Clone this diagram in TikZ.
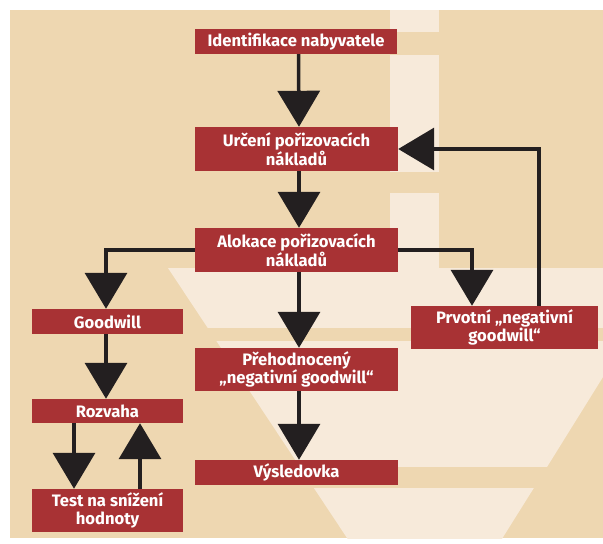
\documentclass[tikz,border=0pt]{standalone}
\usepackage{fontspec}
\setmainfont{Fira Sans}
\usetikzlibrary{arrows.meta}
\definecolor{beige}{HTML}{EED7B1}
\definecolor{cream}{HTML}{F7EADA}
\definecolor{boxred}{HTML}{A83234}
\definecolor{arrowblack}{HTML}{231F20}
\tikzset{
  box/.style={fill=boxred, text=white, font=\bfseries\fontsize{16.6}{18.5}\selectfont,
    align=center, inner sep=0pt, minimum height=#1},
  box/.default=25pt,
  arr/.style={draw=arrowblack, line width=3.5pt,
    -{Triangle[width=42pt,length=36pt]}},
}
\begin{document}
\begin{tikzpicture}[x=1pt,y=-1pt]
\useasboundingbox (0,0) rectangle (603,544);
% background
\fill[white] (0,0) rectangle (603,544);
\fill[beige] (10,10) rectangle (603,538);
\begin{scope}
\clip (10,10) rectangle (603,538);
\fill[cream] (390,10) rectangle (439,32);
\fill[cream] (390,55) rectangle (439,172);
\fill[cream] (390,193) rectangle (439,268);
\fill[cream] (168,268) -- (650,268) -- (603,377) -- (547,467) -- (495,550) -- (355,550) -- cycle;
\fill[beige] (150,328) rectangle (620,341);
\fill[beige] (150,467) rectangle (620,488);
\end{scope}
% nodes
\node[box=25pt, minimum width=202pt] (ident) at (296,41.5) {Identifikace nabyvatele};
\node[box=44pt, minimum width=203pt] (urceni) at (296.5,149) {Určení pořizovacích\\nákladů};
\node[box=44pt, minimum width=203pt] (alokace) at (296.5,250) {Alokace pořizovacích\\nákladů};
\node[box=25pt, minimum width=151pt] (goodwill) at (107.5,321.5) {Goodwill};
\node[box=24pt, minimum width=151pt] (rozvaha) at (107.5,411) {Rozvaha};
\node[box=43pt, minimum width=151pt] (test) at (107.5,510.5) {Test na snížení\\hodnoty};
\node[box=43pt, minimum width=203pt] (prehod) at (296.5,369.5) {Přehodnocený\\„negativní goodwill“};
\node[box=25pt, minimum width=203pt] (vysl) at (296.5,472.5) {Výsledovka};
\node[box=43pt, minimum width=187pt] (prvotni) at (504.5,327.5) {Prvotní „negativní\\goodwill“};
% connectors
\draw[arr] ([xshift=2.5pt]ident.south) -- ([xshift=2.5pt]urceni.north);
\draw[arr] ([xshift=2.5pt]urceni.south) -- ([xshift=2.5pt]alokace.north);
\draw[arr] ([xshift=2.5pt]alokace.south) -- ([xshift=2.5pt]prehod.north);
\draw[arr] ([xshift=2.5pt]prehod.south) -- ([xshift=2.5pt]vysl.north);
\draw[arr] (alokace.west) -| ([xshift=-1.5pt]goodwill.north);
\draw[arr] (alokace.east) -| ([xshift=-32.5pt]prvotni.north);
\draw[arr] ([xshift=34.5pt]prvotni.north) |- (urceni.east);
\draw[arr] ([xshift=-1.5pt]goodwill.south) -- ([xshift=-1.5pt]rozvaha.north);
\draw[arr] ([xshift=-33.5pt]rozvaha.south) -- ([xshift=-33.5pt]test.north);
\draw[arr] ([xshift=32.5pt]test.north) -- ([xshift=32.5pt]rozvaha.south);
\end{tikzpicture}
\end{document}
